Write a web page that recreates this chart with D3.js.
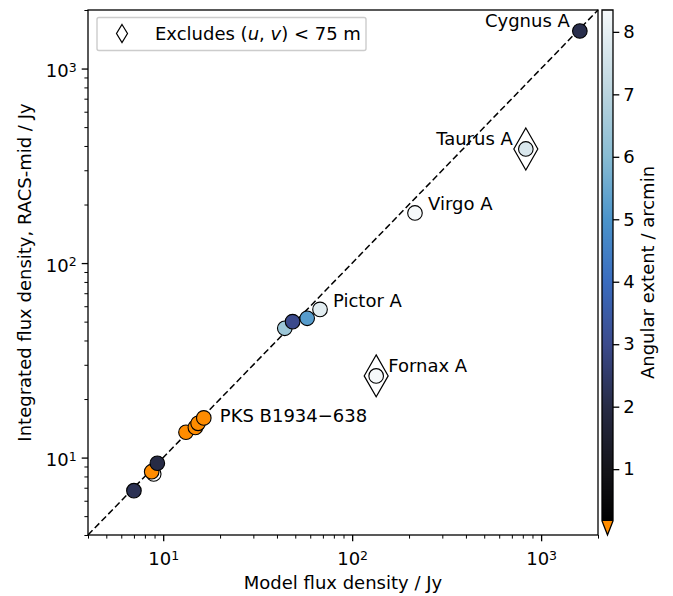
<!DOCTYPE html>
<html>
<head>
<meta charset="utf-8">
<script src="https://cdn.jsdelivr.net/npm/d3@7/dist/d3.min.js"></script>
<style>
  body { margin: 0; background: #fff; }
  svg { font-family: "DejaVu Sans", sans-serif; }
</style>
</head>
<body>
<svg id="chart" width="673" height="596"></svg>
<script>
// ---- data -------------------------------------------------------------
// Sources in drawing order (later entries sit on top).
const sourceNames = [
  "", "", "", "",
  "", "", "", "PKS B1934\u2212638",
  "", "", "", "Pictor A",
  "Virgo A", "Fornax A", "Taurus A", "Cygnus A"
];
const modelFlux = [
  8.91, 8.69, 9.31, 7.0,
  13.2, 14.8, 15.3, 16.4,
  44.0, 48.4, 57.8, 67.6,
  215, 134, 830, 1603
];
const racsFlux = [
  8.24, 8.46, 9.35, 6.76,
  13.5, 14.3, 15.0, 16.0,
  46.2, 50.0, 52.0, 57.8,
  181, 26.3, 386, 1560
];
// Angular extent in arcmin; 0 marks unresolved sources (below colour range).
const angularExtent = [
  9.0, 0, 2.0, 2.2,
  0, 0, 0, 0,
  6.4, 3.0, 5.2, 7.9,
  9.0, 9.0, 7.7, 2.1
];
// Sources whose measurement excludes the shortest (u,v) spacings.
const excludesShort = [
  false, false, false, false,
  false, false, false, false,
  false, false, false, false,
  false, true, true, false
];

const fluxDomain = [4, 2000];
const extentDomain = [0.17, 8.35];
const extentTicks = [1, 2, 3, 4, 5, 6, 7, 8];

// colour ramp stops for angular extent
const rampValues = [0.17, 1, 2, 3, 4, 5, 6, 7, 8.35];
const rampColours = ["#000000", "#141419", "#272b45", "#3b4a8c", "#3a6cbf",
                     "#4b94ca", "#88bcd3", "#bad4de", "#f6f9fa"];
const underColour = "#ff8c00";

// ---- layout -----------------------------------------------------------
const plot = { left: 88, right: 598, top: 10, bottom: 535 };
const cbar = { left: 602, right: 613, top: 10, bottom: 521, tip: 535 };

const svg = d3.select("#chart");

const x = d3.scaleLog().domain(fluxDomain).range([plot.left, plot.right]);
const y = d3.scaleLog().domain(fluxDomain).range([plot.bottom, plot.top]);
const ramp = d3.scaleLinear().domain(rampValues).range(rampColours).clamp(true);
const colourOf = v => (v < extentDomain[0] ? underColour : ramp(v));

const allTicks = x.ticks();
const majorTicks = allTicks.filter(v => Math.abs(Math.log10(v) - Math.round(Math.log10(v))) < 1e-9);
const minorTicks = allTicks.filter(v => !majorTicks.includes(v));

function powerLabel(sel) {
  sel.each(function (d) {
    const t = d3.select(this);
    t.text(null);
    t.append("tspan").text("10");
    t.append("tspan").attr("dy", "-0.45em").attr("font-size", "12.5px")
      .text(String(Math.round(Math.log10(d))));
  });
}

// x axis
const gxMinor = svg.append("g").attr("transform", `translate(0,${plot.bottom})`)
  .call(d3.axisBottom(x).tickValues(minorTicks).tickSize(3.6).tickFormat(""));
const gx = svg.append("g").attr("transform", `translate(0,${plot.bottom})`)
  .call(d3.axisBottom(x).tickValues(majorTicks).tickSize(6.3).tickPadding(5));
gx.selectAll("text").attr("font-size", "18px").attr("fill", "#000")
  .attr("font-family", "DejaVu Sans").call(powerLabel).attr("dy", "1.05em");

// y axis
const gyMinor = svg.append("g").attr("transform", `translate(${plot.left},0)`)
  .call(d3.axisLeft(y).tickValues(minorTicks).tickSize(3.6).tickFormat(""));
const gy = svg.append("g").attr("transform", `translate(${plot.left},0)`)
  .call(d3.axisLeft(y).tickValues(majorTicks).tickSize(6.3).tickPadding(5));
gy.selectAll("text").attr("font-size", "18px").attr("fill", "#000")
  .attr("font-family", "DejaVu Sans").call(powerLabel).attr("dy", "0.45em");

[gx, gy, gxMinor, gyMinor].forEach(g => {
  g.select(".domain").remove();
  g.selectAll("line").attr("stroke", "#000");
});
[gx, gy].forEach(g => g.selectAll("line").attr("stroke-width", 1.3));
[gxMinor, gyMinor].forEach(g => g.selectAll("line").attr("stroke-width", 1));

// one-to-one line
svg.append("line")
  .attr("x1", x(fluxDomain[0])).attr("y1", y(fluxDomain[0]))
  .attr("x2", x(fluxDomain[1])).attr("y2", y(fluxDomain[1]))
  .attr("stroke", "#000").attr("stroke-width", 1.5)
  .attr("stroke-dasharray", "6.5,3.2");

// sources
const sources = modelFlux.map((m, i) => ({
  name: sourceNames[i], model: m, racs: racsFlux[i],
  extent: angularExtent[i], excl: excludesShort[i]
}));

const diamond = (w, h) => `M0,${-h / 2}L${w / 2},0L0,${h / 2}L${-w / 2},0Z`;

const marks = svg.append("g");
sources.forEach(s => {
  const px = x(s.model), py = y(s.racs);
  if (s.excl) {
    marks.append("path").attr("d", diamond(24, 42))
      .attr("transform", `translate(${px},${py})`)
      .attr("fill", "#fff").attr("stroke", "#000").attr("stroke-width", 1.2);
  }
  marks.append("circle").attr("cx", px).attr("cy", py).attr("r", 7.3)
    .attr("fill", colourOf(s.extent)).attr("stroke", "#000").attr("stroke-width", 1.1);
});

// source labels: [dx, dy, anchor]
const labelOffsets = {
  "Cygnus A": [-10, -10, "end"],
  "Taurus A": [-13, -10, "end"],
  "Virgo A": [13, -9, "start"],
  "Pictor A": [13, -9, "start"],
  "Fornax A": [12, -10, "start"],
  "PKS B1934\u2212638": [16, -2, "start"]
};
sources.filter(s => s.name).forEach(s => {
  const [dx, dy, anchor] = labelOffsets[s.name];
  svg.append("text")
    .attr("x", x(s.model) + dx).attr("y", y(s.racs) + dy)
    .attr("dy", "0.35em")
    .attr("text-anchor", anchor)
    .attr("font-size", "18px").attr("fill", "#000")
    .text(s.name);
});

// frame
svg.append("rect")
  .attr("x", plot.left).attr("y", plot.top)
  .attr("width", plot.right - plot.left).attr("height", plot.bottom - plot.top)
  .attr("fill", "none").attr("stroke", "#000").attr("stroke-width", 1.3);

// legend
const lg = svg.append("g");
lg.append("rect").attr("x", 97).attr("y", 17.5).attr("width", 269).attr("height", 33)
  .attr("rx", 2).attr("fill", "#fff").attr("stroke", "#cccccc").attr("stroke-width", 1.4);
lg.append("path").attr("d", diamond(11, 18)).attr("transform", "translate(122,33.5)")
  .attr("fill", "#fff").attr("stroke", "#000").attr("stroke-width", 1.2);
const lt = lg.append("text").attr("x", 155).attr("y", 40).attr("font-size", "18px").attr("fill", "#000");
lt.append("tspan").text("Excludes (");
lt.append("tspan").attr("font-style", "italic").text("u");
lt.append("tspan").text(", ");
lt.append("tspan").attr("font-style", "italic").text("v");
lt.append("tspan").text(") < 75 m");

// axis titles
svg.append("text").attr("x", (plot.left + plot.right) / 2).attr("y", 589)
  .attr("text-anchor", "middle").attr("font-size", "18px").attr("fill", "#000")
  .text("Model flux density / Jy");
svg.append("text").attr("transform", `translate(31,${(plot.top + plot.bottom) / 2}) rotate(-90)`)
  .attr("text-anchor", "middle").attr("font-size", "18px").attr("fill", "#000")
  .text("Integrated flux density, RACS-mid / Jy");

// colour bar with an "under" extension triangle
const cScale = d3.scaleLinear().domain(extentDomain).range([cbar.bottom, cbar.top]);
const cb = svg.append("g");
for (let py = cbar.top; py < cbar.bottom; py += 1) {
  const v = cScale.invert(py + 0.5);
  cb.append("rect").attr("x", cbar.left).attr("y", py)
    .attr("width", cbar.right - cbar.left).attr("height", Math.min(1.2, cbar.bottom - py))
    .attr("fill", ramp(v));
}
const midX = (cbar.left + cbar.right) / 2;
cb.append("path")
  .attr("d", `M${cbar.left},${cbar.bottom}L${cbar.right},${cbar.bottom}L${midX},${cbar.tip}Z`)
  .attr("fill", underColour);
cb.append("path")
  .attr("d", `M${cbar.left},${cbar.bottom}L${cbar.left},${cbar.top}L${cbar.right},${cbar.top}L${cbar.right},${cbar.bottom}L${midX},${cbar.tip}Z`)
  .attr("fill", "none").attr("stroke", "#000").attr("stroke-width", 1.3);
const gc = svg.append("g").attr("transform", `translate(${cbar.right},0)`)
  .call(d3.axisRight(cScale).tickValues(extentTicks).tickSize(6.3).tickPadding(4).tickFormat(d3.format("d")));
gc.select(".domain").remove();
gc.selectAll("line").attr("stroke", "#000").attr("stroke-width", 1.3);
gc.selectAll("text").attr("font-size", "18px").attr("fill", "#000").attr("font-family", "DejaVu Sans");
svg.append("text").attr("transform", `translate(654,${(cbar.top + cbar.tip) / 2}) rotate(-90)`)
  .attr("text-anchor", "middle").attr("font-size", "18px").attr("fill", "#000")
  .text("Angular extent / arcmin");
</script>
</body>
</html>
